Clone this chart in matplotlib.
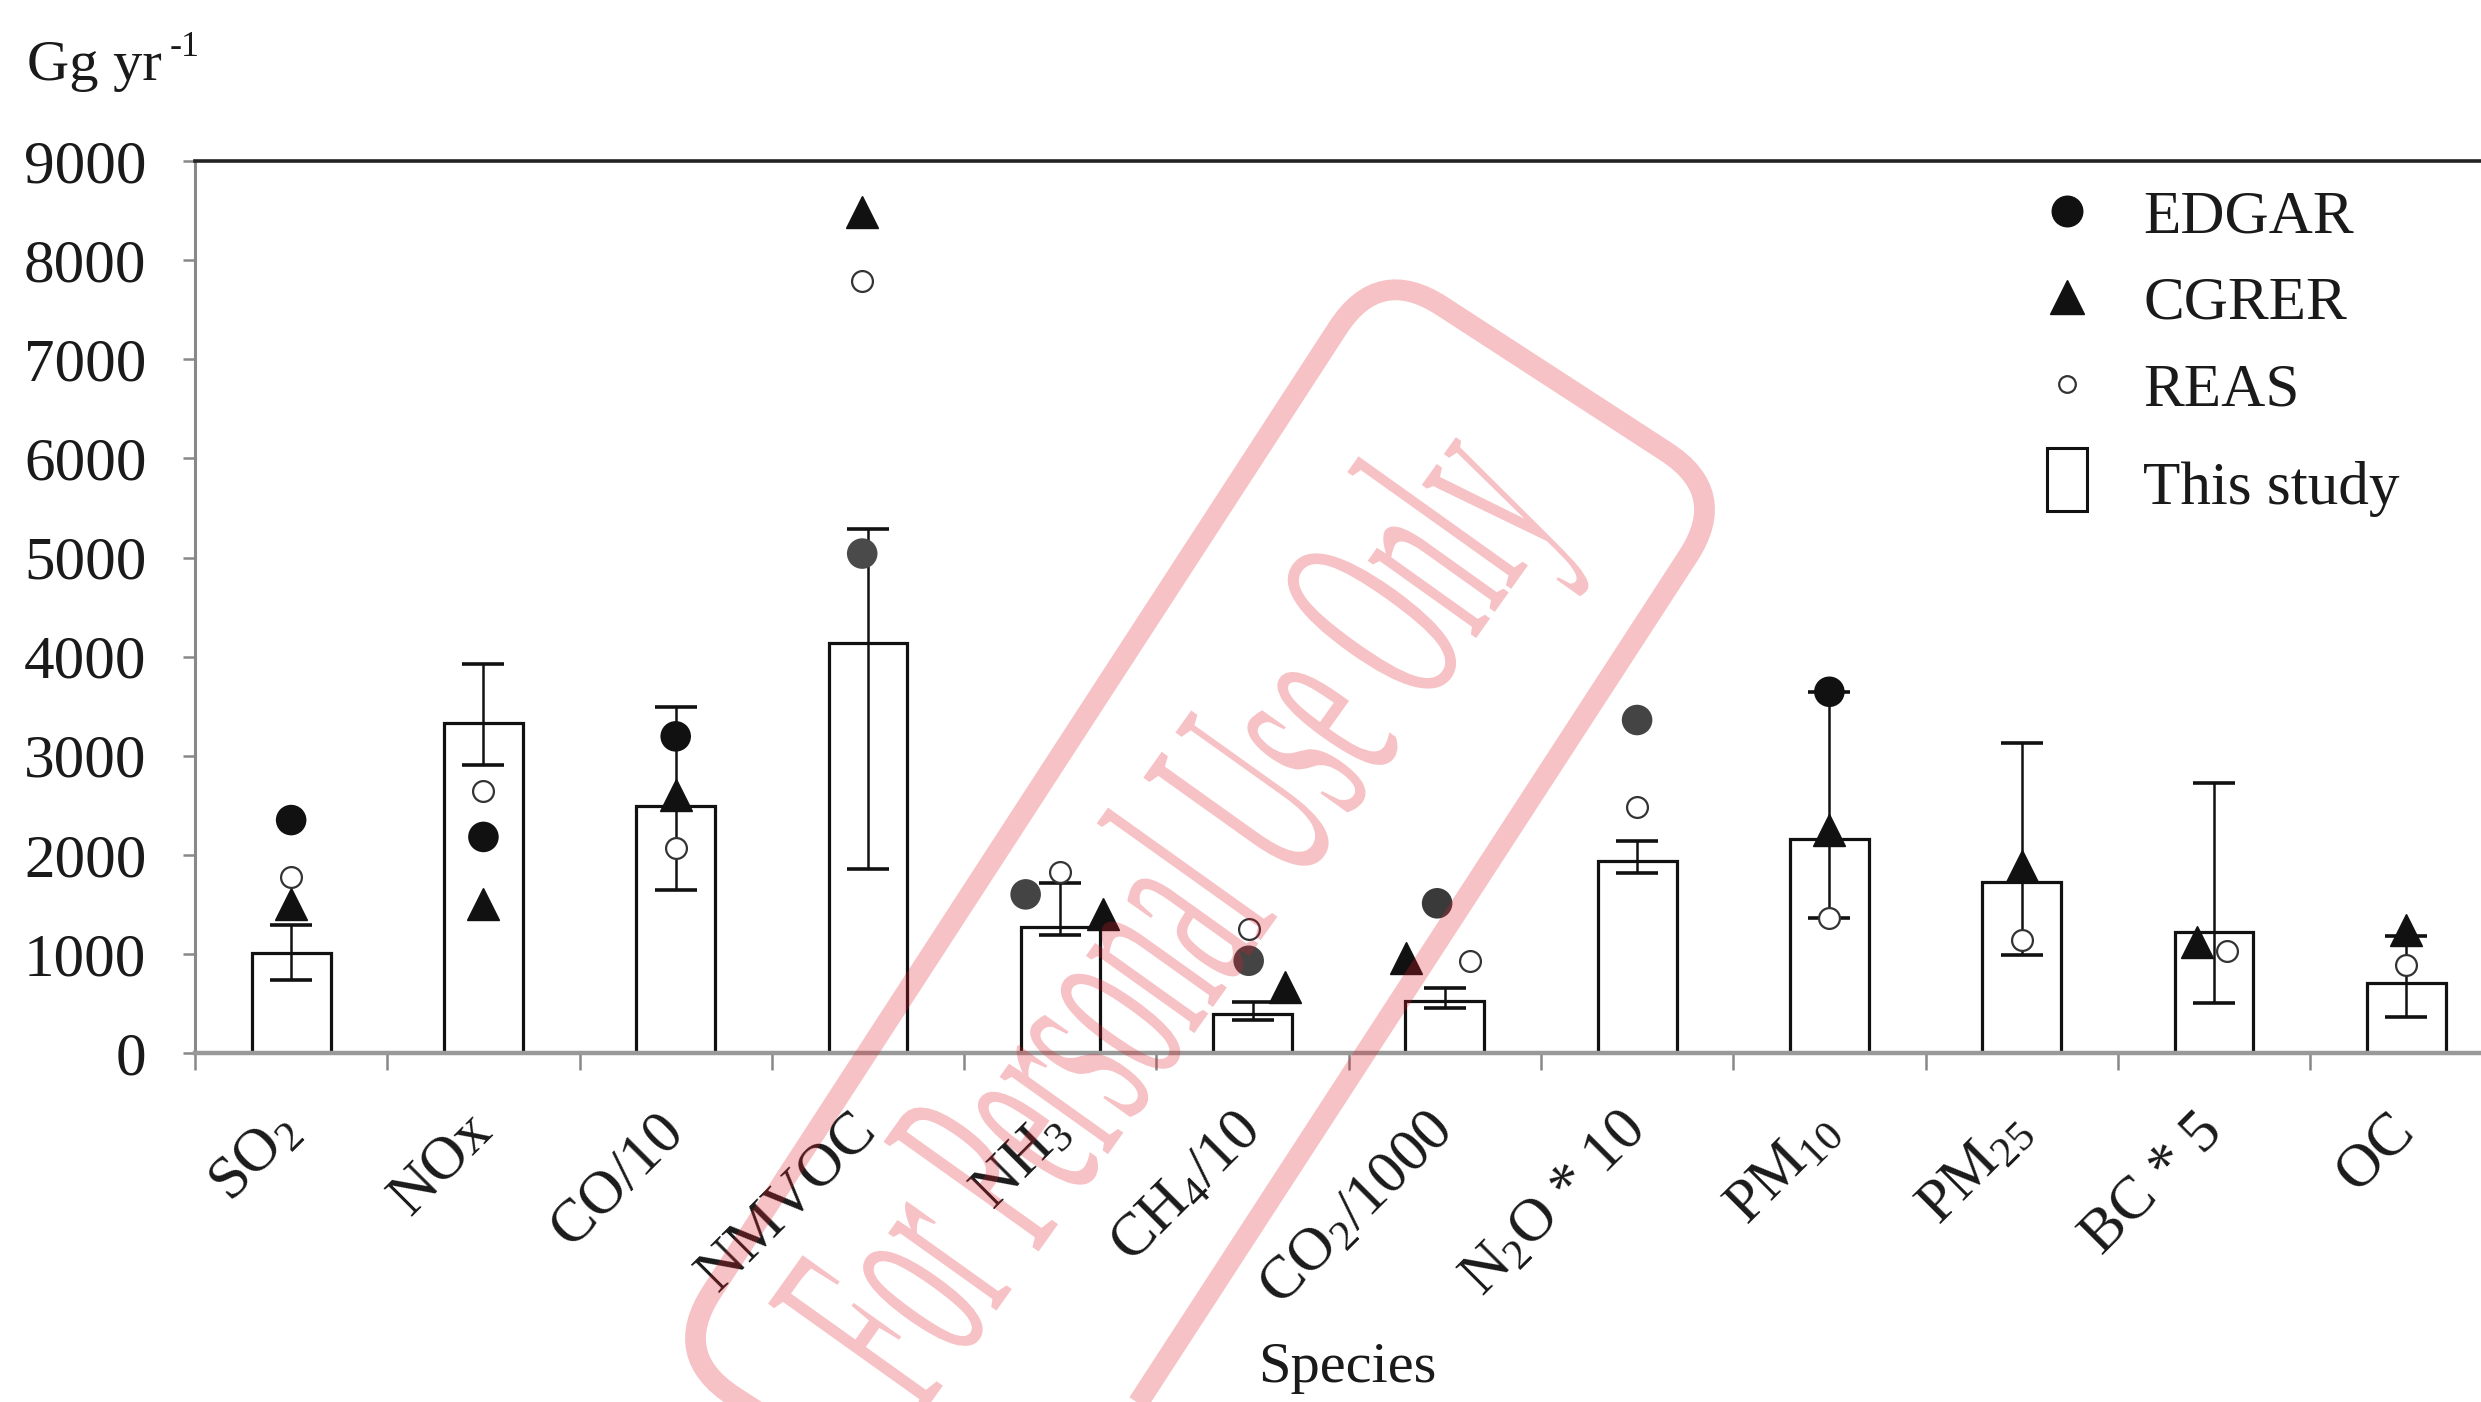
import numpy as np
import matplotlib
matplotlib.use("Agg")
import matplotlib.pyplot as plt
from matplotlib.patches import Rectangle, FancyBboxPatch, PathPatch
from matplotlib.legend_handler import HandlerPatch
from matplotlib.lines import Line2D
from matplotlib.textpath import TextPath
from matplotlib.font_manager import FontProperties
from matplotlib.transforms import Affine2D, IdentityTransform

plt.rcParams['font.family'] = ['Liberation Serif', 'DejaVu Serif']
plt.rcParams['mathtext.fontset'] = 'custom'
plt.rcParams['mathtext.rm'] = 'Liberation Serif'
plt.rcParams['mathtext.it'] = 'Liberation Serif:italic'

# --- datos (Gg/yr) ---
especies = ['SO$_2$', 'NOx', 'CO/10', 'NMVOC', 'NH$_3$', 'CH$_4$/10', 'CO$_2$/1000',
            'N$_2$O * 10', 'PM$_{10}$', 'PM$_{25}$', 'BC * 5', 'OC']
estudio = [1010, 3330, 2490, 4140, 1270, 390, 520, 1940, 2160, 1730, 1220, 710]
err_bajo = [270, 420, 850, 2280, 85, 60, 65, 125, 800, 745, 720, 350]
err_alto = [280, 600, 1000, 1150, 440, 120, 140, 200, 1480, 1400, 1500, 470]
edgar = [2350, 2180, 3195, 5040, 1600, 930, 1510, 3360, 3645, np.nan, np.nan, np.nan]
cgrer = [1500, 1500, 2600, 8490, 1405, 665, 960, np.nan, 2250, 1890, 1120, 1240]
reas = [1775, 2645, 2065, 7790, 1830, 1255, 930, 2480, 1357, 1140, 1025, 892]

# desplazamientos horizontales de los marcadores (en unidades de categoria)
dx_edgar = [0, 0, 0, -0.03, -0.18, -0.02, -0.04, 0, 0, 0, 0, 0]
dx_cgrer = [0, 0, 0, -0.03, 0.22, 0.17, -0.20, 0, 0, 0, -0.09, 0]
dx_reas = [0, 0, 0, -0.03, 0, -0.02, 0.13, 0, 0, 0, 0.07, 0]
col_edgar = ['#111111', '#111111', '#111111', '#4a4a4a', '#444444', '#444444',
             '#3a3a3a', '#444444', '#111111', '#111111', '#111111', '#111111']

x = np.arange(len(especies))

fig = plt.figure(figsize=(24.81, 14.02), dpi=100)
ax = fig.add_axes([0.0786, 0.249, 0.930, 0.636])

ax.bar(x, estudio, width=0.41, facecolor='white', edgecolor='#111111',
       linewidth=2.3, zorder=2)
ax.errorbar(x, estudio, yerr=[err_bajo, err_alto], fmt='none', ecolor='#111111',
            elinewidth=1.8, capsize=15, capthick=2.6, zorder=3)

ax.scatter(x + np.array(dx_edgar), edgar, s=22**2, c=col_edgar, marker='o',
           linewidths=0, zorder=4)
ax.plot(x + np.array(dx_cgrer), cgrer, ls='none', marker='^', ms=23,
        color='#111111', zorder=4)
ax.plot(x + np.array(dx_reas), reas, ls='none', marker='o', ms=15,
        markerfacecolor='white', markeredgecolor='#333333', markeredgewidth=1.6,
        zorder=5)

ax.set_xlim(-0.5, 11.5)
ax.set_ylim(0, 9000)
ax.set_yticks(np.arange(0, 9001, 1000))
ax.set_yticklabels([str(v) for v in range(0, 9001, 1000)])
ax.set_xticks(x)
ax.set_xticklabels(especies, rotation=45, ha='right', va='center',
                   rotation_mode='anchor')
ax.set_xticks(np.arange(-0.5, 12, 1), minor=True)

ax.tick_params(axis='x', which='major', length=0, pad=50, labelsize=44,
               labelcolor='#1a1a1a')
ax.tick_params(axis='x', which='minor', length=12, width=1.8, color='#888888',
               direction='out')
ax.tick_params(axis='y', length=9, width=1.8, color='#888888', pad=26,
               labelsize=44, labelcolor='#1a1a1a')

ax.spines['left'].set_color('#888888')
ax.spines['left'].set_linewidth(2.2)
ax.spines['bottom'].set_color('#999999')
ax.spines['bottom'].set_linewidth(3.2)
ax.spines['top'].set_color('#222222')
ax.spines['top'].set_linewidth(2.6)
ax.spines['right'].set_visible(False)

# unidades arriba a la izquierda: "Gg yr" y un "-1" pequeño
fig.text(0.011, 0.953, 'Gg yr', fontsize=42, color='#1a1a1a',
         ha='left', va='center')
fig.text(0.0685, 0.966, '-1', fontsize=26, color='#1a1a1a',
         ha='left', va='center')
fig.text(0.543, 0.024, 'Species', fontsize=42, color='#1a1a1a',
         ha='center', va='center')


# leyenda, con un rectangulo alto y estrecho para "This study"
def rect_alto(legend, orig_handle, xdescent, ydescent, width, height, fontsize):
    w = 0.66 * fontsize
    h = 1.02 * fontsize
    cx = width / 2 - xdescent
    cy = height / 2 - ydescent - 0.15 * fontsize
    return Rectangle((cx - w / 2, cy - h / 2), w, h)


manejadores = [
    Line2D([], [], ls='none', marker='o', ms=22, color='#111111'),
    Line2D([], [], ls='none', marker='^', ms=24, color='#111111'),
    Line2D([], [], ls='none', marker='o', ms=12, markerfacecolor='white',
           markeredgecolor='#333333', markeredgewidth=1.6),
    Rectangle((0, 0), 1, 1, facecolor='white', edgecolor='#111111', linewidth=2.2),
]
etiquetas = ['EDGAR', 'CGRER', 'REAS', 'This study']
leg = ax.legend(manejadores, etiquetas, loc='upper left',
                bbox_to_anchor=(0.798, 0.968), frameon=False, fontsize=44,
                handlelength=1.0, handletextpad=0.75, labelspacing=0.5,
                borderpad=0, borderaxespad=0,
                handler_map={Rectangle: HandlerPatch(patch_func=rect_alto)},
                labelcolor='#1a1a1a')
leg.get_texts()[3].set_y(-12)

# marca de agua "For Personal Use Only" (coordenadas en pixeles)
rosa = (0.88, 0.12, 0.16, 0.27)
largo, ancho = 1300, 418
caja = FancyBboxPatch((-largo / 2, -ancho / 2), largo, ancho,
                      boxstyle='round,pad=0,rounding_size=75',
                      facecolor='none', edgecolor=rosa, linewidth=15,
                      transform=Affine2D().rotate_deg(57).translate(1200, 478))
fig.add_artist(caja)

tp = TextPath((0, 0), 'For Personal Use Only', size=290,
              prop=FontProperties(family='Liberation Serif'))
ext = tp.get_extents()
sx = 1105 / ext.width
tr = (Affine2D().translate(-ext.x0 - ext.width / 2, -ext.y0 - ext.height / 2)
      .scale(sx, 1).rotate_deg(54.5).translate(1187, 478))
fig.add_artist(PathPatch(tr.transform_path(tp), facecolor=rosa, edgecolor='none',
                         transform=IdentityTransform()))

fig.savefig('out.png', dpi=100)
